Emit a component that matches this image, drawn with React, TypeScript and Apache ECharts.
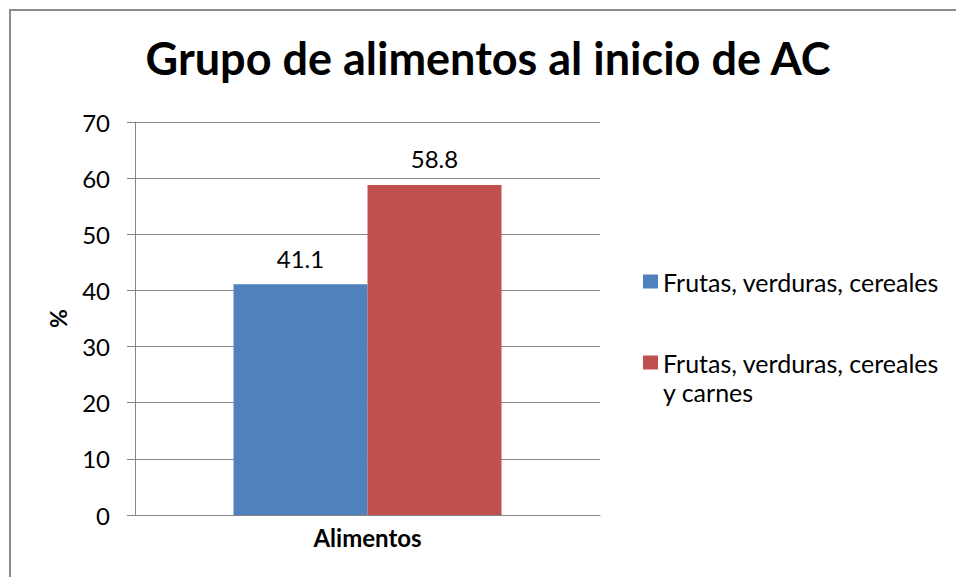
import React, { useEffect, useRef } from "react";
import * as echarts from "echarts";

const titleText = "Grupo de alimentos al inicio de AC";
const categories = ["Alimentos"];
const seriesNames = ["Frutas, verduras, cereales", "Frutas, verduras, cereales y carnes"];
const seriesValues = [[41.1], [58.8]];
const seriesColors = ["#4F81BD", "#C0504D"];
const yTicks = { min: 0, max: 70, interval: 10 };
const yAxisName = "%";

const FONT = "Lato, 'Noto Sans', sans-serif";
const GRID_COLOR = "#868686";

export default function App() {
  const ref = useRef<HTMLDivElement>(null);
  useEffect(() => {
    if (!ref.current) return;
    const chart = echarts.init(ref.current, undefined, { renderer: "svg" });
    chart.setOption({
      animation: false,
      backgroundColor: "#ffffff",
      title: {
        text: titleText,
        left: 488,
        textAlign: "center",
        top: 35,
        padding: 0,
        textStyle: { fontFamily: FONT, fontWeight: "bold", fontSize: 45, color: "#000" },
      },
      graphic: [
        {
          type: "rect",
          shape: { x: 10, y: 10, width: 1000, height: 1000 },
          style: { fill: "none", stroke: "#8c8c8c", lineWidth: 2 },
          silent: true,
        },
      ],
      legend: [
        {
          data: [seriesNames[0]],
          orient: "vertical",
          left: 643,
          top: 267,
          padding: 0,
          itemWidth: 15,
          itemHeight: 14,
          icon: "rect",
          selectedMode: false,
          textStyle: { fontFamily: FONT, fontSize: 25, color: "#000", lineHeight: 29 },
        },
        {
          data: [seriesNames[1]],
          orient: "vertical",
          left: 643,
          top: 319,
          padding: 0,
          itemWidth: 15,
          itemHeight: 14,
          icon: "rect",
          selectedMode: false,
          formatter: (name: string) => "\n" + name,
          textStyle: {
            fontFamily: FONT,
            fontSize: 25,
            color: "#000",
            lineHeight: 29,
            width: 292,
            overflow: "break",
          },
        },
      ],
      grid: { left: 135, top: 122, width: 465, bottom: 62, containLabel: false },
      xAxis: {
        type: "category",
        data: categories,
        axisLine: { lineStyle: { color: GRID_COLOR, width: 1 } },
        axisTick: { show: false },
        axisLabel: { fontFamily: FONT, fontWeight: "bold", fontSize: 24, color: "#000", margin: 10 },
      },
      yAxis: {
        type: "value",
        min: yTicks.min,
        max: yTicks.max,
        interval: yTicks.interval,
        name: yAxisName,
        nameLocation: "middle",
        nameGap: 66,
        nameTextStyle: { fontFamily: FONT, fontWeight: "bold", fontSize: 23, color: "#000" },
        axisLine: { show: true, lineStyle: { color: GRID_COLOR, width: 1 } },
        axisTick: { show: true, length: 8, lineStyle: { color: GRID_COLOR } },
        axisLabel: { fontFamily: FONT, fontSize: 24, color: "#000", margin: 25 },
        splitLine: { lineStyle: { color: GRID_COLOR, width: 1 } },
      },
      series: seriesNames.map((name, i) => ({
        type: "bar",
        name,
        data: seriesValues[i],
        barWidth: 134,
        barGap: "0%",
        itemStyle: { color: seriesColors[i] },
        label: {
          show: true,
          position: "top",
          distance: 14,
          fontFamily: FONT,
          fontSize: 24,
          color: "#000",
        },
      })),
    });
    return () => chart.dispose();
  }, []);
  return (
    <div
      ref={ref}
      style={{ position: "absolute", left: 0, top: 0, width: 956, height: 577 }}
    />
  );
}
